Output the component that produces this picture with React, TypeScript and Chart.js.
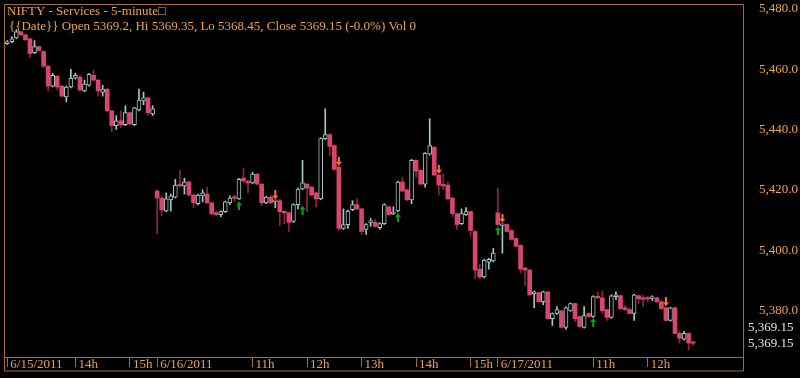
import React, { useEffect, useRef } from 'react';
import { Chart, registerables } from 'chart.js';

Chart.register(...registerables);

// 5-minute bars: 6/15/2011 12:45 -> 6/17/2011 12:40
const opens = [
  5468.5, 5469.1, 5470.4, 5472.4, 5471.4, 5470.1, 5465.5, 5467.5, 5465.9, 5461.0,
  5454.4, 5457.7, 5454.4, 5450.8, 5454.1, 5457.0, 5457.4, 5452.8, 5454.7, 5458.0,
  5456.4, 5452.4, 5453.4, 5446.2, 5441.3, 5442.9, 5441.6, 5445.6, 5441.6, 5446.5,
  5449.5, 5450.5, 5445.2,
  5419.6, 5417.3, 5413.0, 5416.7, 5417.6, 5421.6, 5421.3, 5422.6, 5418.3, 5415.4,
  5418.0, 5418.6, 5415.7, 5412.4, 5411.8, 5412.8, 5415.7, 5417.3, 5417.0, 5423.9,
  5422.9, 5422.3, 5425.2, 5421.9, 5415.7, 5417.6, 5416.2, 5416.4, 5412.8, 5412.4,
  5409.5, 5415.1, 5420.3, 5421.9, 5420.9, 5419.0, 5417.0, 5437.0, 5438.3, 5434.7,
  5427.5, 5407.2, 5408.5, 5413.4, 5415.1, 5413.7, 5406.9, 5409.2, 5409.2, 5407.5,
  5408.8, 5414.4, 5412.1, 5413.0, 5422.6, 5420.0, 5416.7, 5429.8, 5426.5, 5421.9,
  5431.8, 5434.1, 5424.9, 5421.6, 5421.6, 5417.3, 5412.1, 5408.8, 5411.8, 5412.8,
  5406.2, 5393.7, 5391.1, 5396.0, 5396.4,
  5412.4, 5408.2, 5408.5, 5406.5, 5403.9, 5401.6, 5394.1, 5393.4, 5385.5, 5385.9,
  5382.9, 5386.2, 5377.3, 5379.0, 5379.9, 5374.4, 5379.9, 5382.3, 5378.0, 5374.4,
  5379.0, 5378.0, 5384.6, 5384.2, 5380.3, 5377.7, 5384.6, 5384.9, 5380.9, 5380.3,
  5379.0, 5384.9, 5384.2, 5383.9, 5384.0, 5384.2, 5382.9, 5380.9, 5376.7, 5380.9,
  5372.4, 5370.5, 5372.4, 5369.2,
];
const highs = [
  5469.5, 5470.8, 5473.1, 5472.6, 5471.6, 5470.3, 5469.5, 5467.7, 5466.1, 5461.2,
  5458.7, 5457.9, 5454.6, 5454.4, 5460.0, 5458.7, 5458.0, 5456.4, 5458.6, 5459.7,
  5456.6, 5454.7, 5453.6, 5446.4, 5444.6, 5446.2, 5447.9, 5445.8, 5447.4, 5453.4,
  5452.4, 5450.7, 5447.9,
  5420.0, 5418.0, 5419.0, 5418.6, 5423.5, 5426.5, 5423.9, 5422.9, 5418.5, 5418.6,
  5420.0, 5420.9, 5415.9, 5413.0, 5413.1, 5416.3, 5418.0, 5418.3, 5423.8, 5427.2,
  5423.1, 5425.9, 5425.4, 5422.1, 5417.9, 5418.3, 5416.6, 5417.0, 5413.0, 5412.6,
  5415.4, 5420.6, 5429.8, 5422.1, 5421.2, 5419.3, 5437.3, 5446.9, 5438.6, 5435.0,
  5427.8, 5413.7, 5413.3, 5416.4, 5417.0, 5413.9, 5408.8, 5410.5, 5410.2, 5409.1,
  5415.4, 5414.7, 5414.4, 5422.9, 5424.2, 5420.2, 5430.1, 5430.0, 5426.8, 5432.4,
  5443.6, 5434.4, 5425.1, 5425.2, 5422.6, 5417.5, 5412.3, 5413.7, 5414.1, 5413.0,
  5406.4, 5395.4, 5397.0, 5397.3, 5400.6,
  5420.6, 5408.7, 5408.7, 5406.7, 5404.1, 5401.8, 5394.3, 5393.6, 5386.4, 5386.1,
  5386.4, 5386.4, 5379.2, 5381.3, 5380.1, 5381.2, 5382.5, 5382.5, 5378.2, 5381.3,
  5379.2, 5384.9, 5386.2, 5386.5, 5380.5, 5385.2, 5386.2, 5385.1, 5381.6, 5380.9,
  5385.4, 5385.1, 5385.2, 5384.6, 5384.9, 5384.4, 5383.6, 5381.1, 5381.1, 5381.1,
  5373.1, 5373.1, 5372.6, 5369.35,
];
const lows = [
  5468.2, 5468.8, 5470.1, 5471.2, 5469.5, 5463.9, 5465.2, 5465.9, 5460.6, 5452.8,
  5454.1, 5453.1, 5450.8, 5449.2, 5453.8, 5456.7, 5452.8, 5452.5, 5454.4, 5456.1,
  5451.1, 5451.1, 5446.0, 5439.3, 5440.0, 5440.6, 5441.3, 5441.6, 5441.3, 5446.2,
  5448.2, 5444.9, 5444.6,
  5405.5, 5411.4, 5412.7, 5413.0, 5417.3, 5421.0, 5418.6, 5418.0, 5414.1, 5415.0,
  5416.0, 5415.4, 5411.8, 5411.5, 5411.1, 5412.5, 5415.1, 5416.0, 5416.8, 5422.6,
  5419.0, 5422.0, 5421.6, 5414.7, 5415.4, 5415.4, 5414.1, 5408.2, 5408.8, 5406.2,
  5409.2, 5413.7, 5420.0, 5412.8, 5418.0, 5414.4, 5416.7, 5436.7, 5431.4, 5426.5,
  5406.5, 5406.9, 5407.2, 5413.1, 5413.4, 5405.2, 5405.2, 5407.9, 5407.6, 5406.9,
  5408.5, 5411.5, 5411.8, 5412.7, 5419.3, 5416.4, 5415.4, 5424.2, 5421.6, 5420.9,
  5431.5, 5424.6, 5418.3, 5420.0, 5416.8, 5411.1, 5406.9, 5408.5, 5411.5, 5404.6,
  5390.5, 5390.5, 5390.8, 5393.7, 5396.1,
  5408.2, 5399.0, 5406.0, 5403.3, 5401.0, 5392.4, 5388.2, 5385.0, 5380.9, 5382.7,
  5381.9, 5377.0, 5375.0, 5378.7, 5374.1, 5373.7, 5379.7, 5376.4, 5374.4, 5374.1,
  5377.8, 5377.7, 5384.0, 5379.0, 5376.7, 5377.4, 5383.6, 5380.4, 5380.0, 5378.8,
  5376.7, 5382.3, 5381.3, 5382.9, 5383.3, 5382.7, 5380.4, 5376.5, 5376.5, 5372.2,
  5369.2, 5370.2, 5366.9, 5368.45,
];
const closes = [
  5469.1, 5470.1, 5472.4, 5471.4, 5469.8, 5465.2, 5467.5, 5466.2, 5461.0, 5454.4,
  5458.0, 5454.1, 5451.1, 5454.1, 5457.0, 5458.0, 5453.1, 5455.1, 5458.3, 5456.4,
  5452.8, 5453.4, 5446.2, 5441.3, 5442.9, 5441.6, 5445.6, 5441.9, 5447.2, 5449.8,
  5450.5, 5445.6, 5446.9,
  5417.3, 5413.4, 5417.0, 5418.0, 5421.6, 5421.3, 5422.6, 5418.3, 5415.7, 5418.3,
  5419.0, 5415.7, 5412.1, 5411.8, 5412.8, 5416.0, 5417.3, 5417.2, 5423.5, 5422.9,
  5422.3, 5425.2, 5421.9, 5415.7, 5417.6, 5415.7, 5416.5, 5412.8, 5412.4, 5409.2,
  5415.1, 5420.3, 5422.3, 5420.6, 5418.3, 5417.0, 5437.0, 5438.3, 5434.4, 5426.8,
  5407.2, 5408.5, 5413.0, 5415.1, 5413.7, 5406.2, 5408.5, 5409.5, 5407.9, 5408.8,
  5415.1, 5411.8, 5412.4, 5422.6, 5419.6, 5416.7, 5429.8, 5426.2, 5421.9, 5432.1,
  5434.7, 5424.9, 5421.6, 5421.3, 5417.0, 5412.1, 5408.5, 5412.1, 5412.8, 5406.5,
  5393.4, 5391.1, 5396.7, 5397.0, 5399.0,
  5408.5, 5408.5, 5406.2, 5403.6, 5401.3, 5393.7, 5393.4, 5385.2, 5386.2, 5382.9,
  5386.2, 5377.3, 5379.0, 5380.3, 5374.4, 5380.9, 5382.3, 5377.3, 5374.7, 5378.3,
  5378.0, 5384.6, 5384.2, 5379.9, 5377.7, 5384.9, 5385.2, 5380.6, 5380.3, 5379.0,
  5385.2, 5383.9, 5383.7, 5383.8, 5384.4, 5382.9, 5380.6, 5376.7, 5380.9, 5372.4,
  5370.8, 5372.4, 5369.2, 5369.15,
];

const tickIndex = [0, 15, 27, 33, 54, 66, 78, 90, 102, 108, 129, 141];
const tickLabels = ['6/15/2011', '14h', '15h', '6/16/2011', '11h', '12h', '13h', '14h', '15h', '6/17/2011', '11h', '12h'];
const priceTicks = [5380, 5400, 5420, 5440, 5460, 5480];

const buyIdx = [51, 65, 86, 108, 129];
const buyPrice = [5414.7, 5413.3, 5410.8, 5406.4, 5376.0];
const sellIdx = [59, 73, 95, 109, 145];
const sellPrice = [5418.3, 5429.5, 5426.8, 5410.6, 5382.9];

const lastClose = 5369.15;
const titleText = 'NIFTY - Services - 5-minute\u25a1';
const infoText = '{{Date}} Open 5369.2, Hi 5369.35, Lo 5368.45, Close 5369.15 (-0.0%) Vol 0';

const UP = '#a3c6c6';
const DOWN = '#d8466e';
const DOWN_WICK = '#8e2446';
const FRAME = '#a66c34';
const TEXT = '#eba44c';
const FONT_FAMILY = "'Liberation Serif', 'Times New Roman', serif";

function makeArrow(color: string, up: boolean): HTMLCanvasElement {
  const c = document.createElement('canvas');
  c.width = 6;
  c.height = 9;
  const g = c.getContext('2d') as CanvasRenderingContext2D;
  g.fillStyle = color;
  g.beginPath();
  if (up) {
    g.moveTo(3, 0); g.lineTo(6, 4); g.lineTo(4, 4); g.lineTo(4, 9);
    g.lineTo(2, 9); g.lineTo(2, 4); g.lineTo(0, 4);
  } else {
    g.moveTo(3, 9); g.lineTo(6, 5); g.lineTo(4, 5); g.lineTo(4, 0);
    g.lineTo(2, 0); g.lineTo(2, 5); g.lineTo(0, 5);
  }
  g.closePath();
  g.fill();
  return c;
}

const isUp = (i: number) => closes[i] >= opens[i];

const overlay = {
  id: 'overlay',
  beforeDraw(chart: any) {
    const ctx = chart.ctx;
    ctx.save();
    ctx.fillStyle = '#000';
    ctx.fillRect(0, 0, chart.width, chart.height);
    ctx.restore();
  },
  afterDraw(chart: any) {
    const ctx = chart.ctx;
    const area = chart.chartArea;
    const xs = chart.scales.x;
    const ys = chart.scales.y;
    ctx.save();
    ctx.strokeStyle = FRAME;
    ctx.lineWidth = 1;
    ctx.beginPath();
    ctx.rect(area.left - 0.5, area.top - 0.5, area.right - area.left + 1, xs.bottom - area.top + 0.5);
    ctx.stroke();
    ctx.font = '13px ' + FONT_FAMILY;
    ctx.fillStyle = TEXT;
    ctx.textAlign = 'left';
    ctx.textBaseline = 'alphabetic';
    ctx.fillText(titleText, area.left + 2, area.top + 9.5);
    ctx.fillText(infoText, area.left + 4, area.top + 25);
    const py = ys.getPixelForValue(lastClose);
    ctx.fillStyle = '#e4e4e4';
    ctx.textBaseline = 'middle';
    ctx.fillText(lastClose.toFixed(2).replace(/^(\d)(\d{3})/, '$1,$2'), area.right + 5, py);
    ctx.fillText(lastClose.toFixed(2).replace(/^(\d)(\d{3})/, '$1,$2'), area.right + 5, py - 15.5);
    ctx.restore();
  },
};

export default function App() {
  const ref = useRef<HTMLCanvasElement | null>(null);

  useEffect(() => {
    if (!ref.current) return;
    const upArrow = makeArrow('#14a014', true);
    const downArrow = makeArrow('#ff7a1e', false);

    const wickData = opens.map((_, i) => ({ x: i, y: [lows[i], highs[i]] }));
    const bodyData = opens.map((o, i) => ({ x: i, y: [o, closes[i]] }));
    const buyData = buyIdx.map((x, i) => ({ x, y: buyPrice[i] }));
    const sellData = sellIdx.map((x, i) => ({ x, y: sellPrice[i] }));

    const chart = new Chart(ref.current, {
      type: 'bar',
      data: {
        datasets: [
          {
            type: 'scatter',
            data: buyData,
            pointStyle: upArrow,
            pointRadius: 4,
            order: 0,
          } as any,
          {
            type: 'scatter',
            data: sellData,
            pointStyle: downArrow,
            pointRadius: 4,
            order: 0,
          } as any,
          {
            type: 'bar',
            data: bodyData,
            grouped: false,
            barThickness: 4,
            minBarLength: 1.5,
            borderSkipped: false,
            backgroundColor: (c: any) => (isUp(c.dataIndex) ? '#000' : DOWN),
            borderColor: (c: any) => (isUp(c.dataIndex) ? UP : DOWN),
            borderWidth: (c: any) => (isUp(c.dataIndex) ? 1 : 0),
            order: 1,
          } as any,
          {
            type: 'bar',
            data: wickData,
            grouped: false,
            barThickness: 1,
            borderWidth: 0,
            backgroundColor: (c: any) => (isUp(c.dataIndex) ? UP : DOWN_WICK),
            order: 2,
          } as any,
        ],
      },
      options: {
        animation: false,
        responsive: true,
        maintainAspectRatio: false,
        events: [],
        layout: { padding: { left: 1, top: 1, right: 2, bottom: 7 } },
        plugins: { legend: { display: false }, tooltip: { enabled: false } },
        scales: {
          x: {
            type: 'linear',
            min: -0.5,
            max: 161.97,
            bounds: 'data',
            offset: false,
            grid: {
              display: true,
              offset: false,
              drawOnChartArea: false,
              drawTicks: true,
              tickLength: 10,
              color: FRAME,
            },
            border: { display: true, color: FRAME },
            afterBuildTicks: (s: any) => {
              s.ticks = tickIndex.map((v) => ({ value: v }));
            },
            afterFit: (s: any) => {
              s.height = 14;
              s.paddingLeft = 0;
              s.paddingRight = 0;
            },
            ticks: {
              autoSkip: false,
              maxRotation: 0,
              minRotation: 0,
              align: 'start',
              labelOffset: 3,
              padding: -10,
              color: TEXT,
              font: { family: FONT_FAMILY, size: 13 },
              callback: (v: any) => {
                const k = tickIndex.indexOf(Math.round(Number(v)));
                return k >= 0 ? tickLabels[k] : '';
              },
            },
          },
          y: {
            type: 'linear',
            position: 'right',
            min: 5364.58,
            max: 5481.3,
            bounds: 'data',
            grid: { display: false, drawTicks: false },
            border: { display: true, color: FRAME },
            afterBuildTicks: (s: any) => {
              s.ticks = priceTicks.map((v) => ({ value: v }));
            },
            afterFit: (s: any) => {
              s.width = 55;
              s.paddingTop = 0;
              s.paddingBottom = 0;
            },
            ticks: {
              padding: 17,
              crossAlign: 'far',
              color: TEXT,
              font: { family: FONT_FAMILY, size: 13 },
              callback: (v: any) =>
                Number(v).toLocaleString('en-US', { minimumFractionDigits: 1, maximumFractionDigits: 1 }),
            },
          },
        },
      } as any,
      plugins: [overlay],
    });
    return () => chart.destroy();
  }, []);

  return (
    <div style={{ position: 'fixed', left: 0, top: 0, width: 800, height: 378, background: '#000' }}>
      <canvas ref={ref} />
    </div>
  );
}
